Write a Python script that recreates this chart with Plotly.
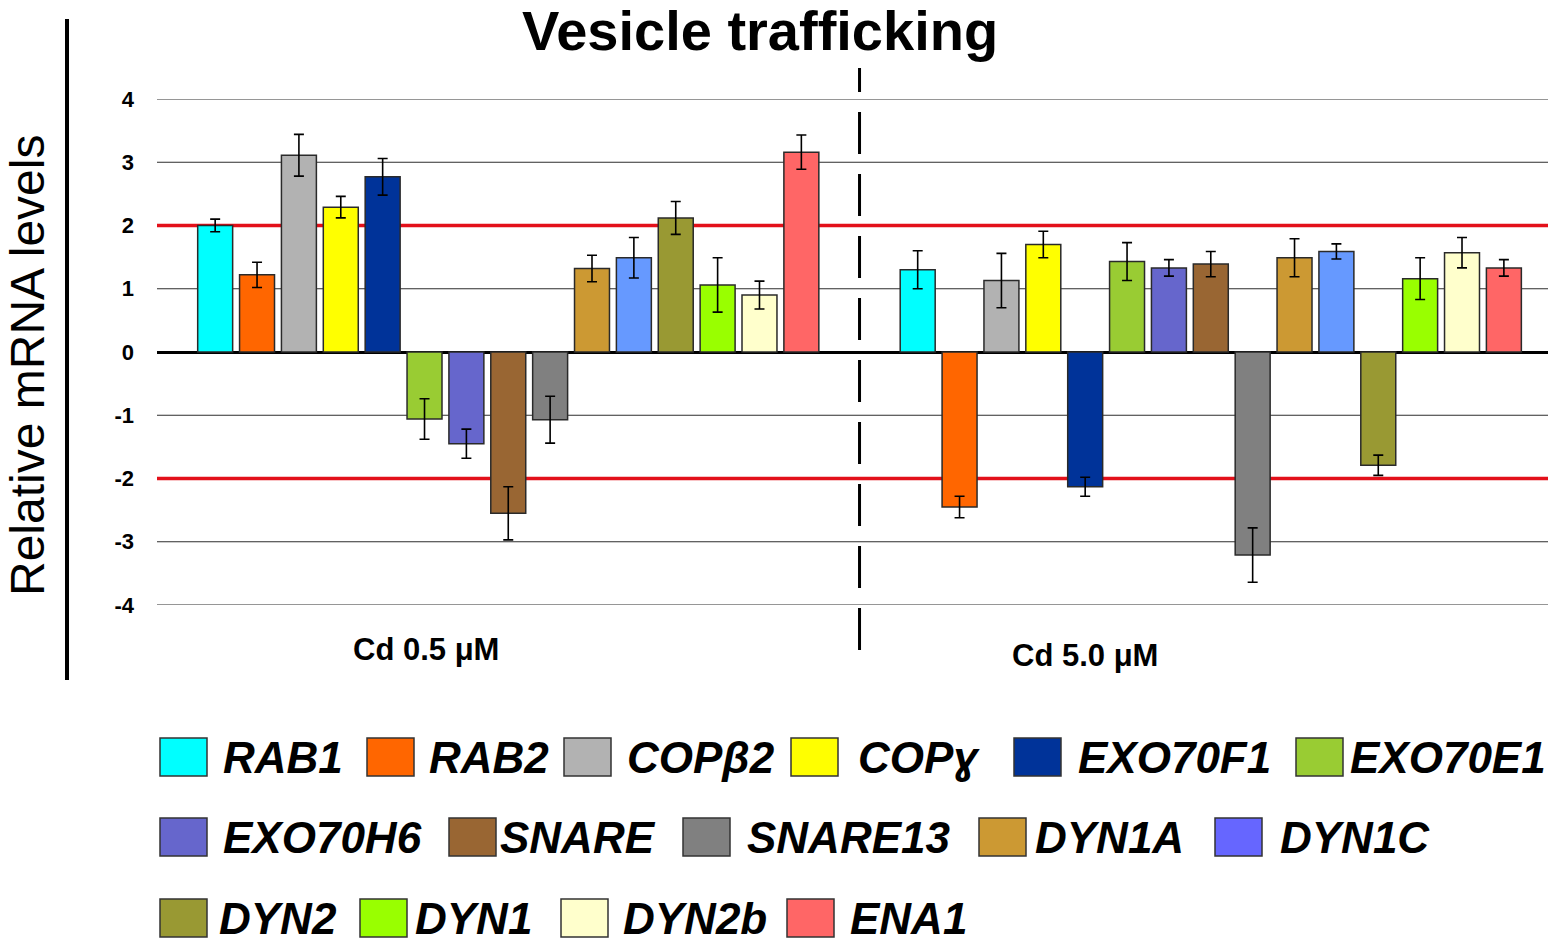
import plotly.graph_objects as go

# genes (legend order) and treatments
genes = ["RAB1", "RAB2", "COPβ2", "COPɣ", "EXO70F1", "EXO70E1", "EXO70H6", "SNARE",
         "SNARE13", "DYN1A", "DYN1C", "DYN2", "DYN1", "DYN2b", "ENA1"]
treatments = ["Cd 0.5 μM", "Cd 5.0 μM"]

# relative mRNA levels
cd_low = [2.0, 1.22, 3.11, 2.29, 2.77, -1.06, -1.45, -2.55, -1.07, 1.32, 1.49, 2.12, 1.06, 0.90, 3.16]
cd_low_err = [0.10, 0.20, 0.33, 0.17, 0.29, 0.32, 0.23, 0.42, 0.37, 0.21, 0.32, 0.26, 0.43, 0.22, 0.27]
cd_high = [1.30, -2.45, 1.13, 1.70, -2.13, 1.43, 1.33, 1.39, -3.21, 1.49, 1.59, -1.79, 1.16, 1.57, 1.33]
cd_high_err = [0.30, 0.17, 0.43, 0.21, 0.15, 0.30, 0.13, 0.20, 0.43, 0.30, 0.12, 0.16, 0.33, 0.24, 0.13]

bar_colors = ["#00FFFF", "#FF6600", "#B2B2B2", "#FFFF00", "#003399", "#99CC33", "#6666CC", "#996633",
              "#808080", "#CC9933", "#6699FF", "#999933", "#99FF00", "#FFFFCC", "#FF6666"]
legend_colors = ["#00FFFF", "#FF6600", "#B2B2B2", "#FFFF00", "#003399", "#99CC33", "#6666CC", "#996633",
                 "#808080", "#CC9933", "#6666FF", "#999933", "#99FF00", "#FFFFCC", "#FF6666"]

y_ticks = [-4, -3, -2, -1, 0, 1, 2, 3, 4]
y_ticktext = ["-4", "-3", "-2", "-1", "0", "1", "2", "3", "4"]
thresholds = [2, -2]

# plot area in pixels
L, R, T, B = 157, 1548, 99, 605


def px(x):
    return (x - L) / (R - L)


def py(y):
    return (B - y) / (B - T)


fig = go.Figure()

for i, g in enumerate(genes):
    fig.add_trace(go.Bar(
        x=treatments,
        y=[cd_low[i], cd_high[i]],
        name=g,
        marker=dict(color=bar_colors[i], line=dict(color="#2a2a2a", width=1.5)),
        error_y=dict(type="data", array=[cd_low_err[i], cd_high_err[i]],
                     color="black", thickness=1.6, width=5),
        showlegend=False,
    ))

shapes = []
# grey gridlines (not under the red threshold lines)
for t in y_ticks:
    if t in thresholds or t == 0:
        continue
    shapes.append(dict(type="line", xref="paper", yref="y", x0=0, x1=1, y0=t, y1=t,
                       line=dict(color="#2e2e2e", width=1.2), layer="below"))
# red threshold lines
for t in thresholds:
    shapes.append(dict(type="line", xref="paper", yref="y", x0=0, x1=1, y0=t, y1=t,
                       line=dict(color="#E3101A", width=3.5), layer="below"))
# dashed divider between the two treatments
shapes.append(dict(type="line", xref="x", yref="paper", x0=0.5, x1=0.5, y0=py(650), y1=py(68),
                   line=dict(color="black", width=3, dash="42px,20px")))
# left black bar next to axis title
shapes.append(dict(type="line", xref="paper", yref="paper", x0=px(67), x1=px(67), y0=py(680), y1=py(19),
                   line=dict(color="black", width=4)))

annotations = [
    dict(text="Relative mRNA levels", xref="paper", yref="paper", x=px(27), y=py(366),
         textangle=-90, showarrow=False, xanchor="center", yanchor="middle",
         font=dict(family="Liberation Sans, Arial", size=48, color="black")),
    dict(text="<b>%s</b>" % treatments[0], xref="paper", yref="paper", x=px(426), y=py(649),
         showarrow=False, xanchor="center", yanchor="middle",
         font=dict(family="Liberation Sans, Arial", size=31, color="black")),
    dict(text="<b>%s</b>" % treatments[1], xref="paper", yref="paper", x=px(1085), y=py(655),
         showarrow=False, xanchor="center", yanchor="middle",
         font=dict(family="Liberation Sans, Arial", size=31, color="black")),
]

# custom legend: (box left px, text left px, row centre px) for each gene
legend_pos = [
    (160, 221, 757), (367, 427, 757), (564, 625, 757), (791, 856, 757), (1014, 1076, 757), (1296, 1348, 757),
    (160, 221, 837), (449, 498, 837), (683, 745, 837), (979, 1033, 837), (1215, 1278, 837),
    (160, 217, 918), (360, 413, 918), (561, 621, 918), (787, 848, 918),
]
for i, (bx, tx, cy) in enumerate(legend_pos):
    shapes.append(dict(type="rect", xref="paper", yref="paper",
                       x0=px(bx), x1=px(bx + 47), y0=py(cy + 19), y1=py(cy - 19),
                       fillcolor=legend_colors[i], line=dict(color="#333333", width=1.5)))
    annotations.append(dict(text="<b><i>%s</i></b>" % genes[i], xref="paper", yref="paper",
                            x=px(tx), y=py(cy), showarrow=False, xanchor="left", yanchor="middle",
                            font=dict(family="Liberation Sans, Arial", size=44, color="black")))

fig.update_layout(
    width=1559, height=945,
    margin=dict(l=L, r=1559 - R, t=T, b=945 - B),
    paper_bgcolor="white", plot_bgcolor="white",
    barmode="group", bargap=0.106, bargroupgap=0.165,
    title=dict(text="<b>Vesicle trafficking</b>", x=760 / 1559, y=1 - 30 / 945,
               xanchor="center", yanchor="middle",
               font=dict(family="Liberation Sans, Arial", size=56, color="black")),
    xaxis=dict(range=[-0.5, 1.48], showticklabels=False, showgrid=False, zeroline=False,
               showline=False, ticks=""),
    yaxis=dict(range=[-4, 4], tickvals=y_ticks, ticktext=y_ticktext, showgrid=False,
               zeroline=True, zerolinecolor="black", zerolinewidth=2.5, showline=False,
               ticks="", ticklabelstandoff=22,
               tickfont=dict(family="Liberation Sans, Arial", size=22, color="black", weight="bold")),
    shapes=shapes,
    annotations=annotations,
)

# page body has an 8px default margin; drop it so the figure fills the window
fig.write_html("out.html", config={"displayModeBar": False},
               post_script="document.body.style.margin='0';")
